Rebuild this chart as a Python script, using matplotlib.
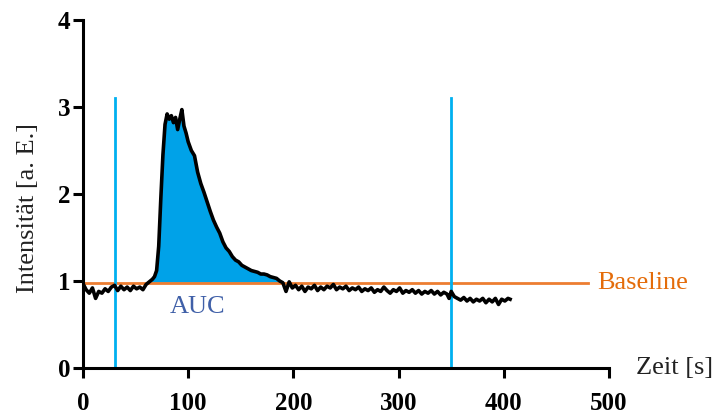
import matplotlib.pyplot as plt
import numpy as np

plt.rcParams['font.family'] = ['Liberation Serif', 'DejaVu Serif']

# Zeit [s] und Intensitaet [a. E.]
zeit = [0, 3, 6, 9, 12, 15, 18, 21, 24, 27, 30, 33, 36, 39, 42, 45, 48, 51, 54, 57,
        60, 63, 66, 68, 70, 72, 74, 76, 78, 80, 82, 84, 86, 88, 90, 92, 94, 96, 98,
        100, 103, 106, 109, 112, 115, 118, 121, 124, 127, 130, 133, 136, 139, 142,
        145, 148, 151, 154, 157, 160, 163, 166, 169, 172, 175, 178, 181, 184, 187,
        190, 193, 196, 199, 202, 205, 208, 211, 214, 217, 220, 223, 226, 229, 232,
        235, 238, 241, 244, 247, 250, 253, 256, 259, 262, 265, 268, 271, 274, 277,
        280, 283, 286, 289, 292, 295, 298, 301, 304, 307, 310, 313, 316, 319, 322,
        325, 328, 331, 334, 337, 340, 343, 346, 348, 350, 353, 356, 359, 362, 365,
        368, 371, 374, 377, 380, 383, 386, 389, 392, 395, 398, 401, 404, 406]
intensitaet = [0.97, 0.90, 0.86, 0.92, 0.80, 0.88, 0.86, 0.91, 0.88, 0.93, 0.95, 0.89,
               0.94, 0.90, 0.93, 0.89, 0.94, 0.91, 0.93, 0.90, 0.96, 0.99, 1.02, 1.05,
               1.12, 1.40, 1.95, 2.45, 2.80, 2.92, 2.86, 2.90, 2.82, 2.88, 2.74, 2.86,
               2.97, 2.78, 2.70, 2.60, 2.50, 2.44, 2.25, 2.12, 2.02, 1.91, 1.80, 1.70,
               1.62, 1.55, 1.45, 1.38, 1.34, 1.28, 1.24, 1.22, 1.18, 1.16, 1.14, 1.12,
               1.11, 1.10, 1.08, 1.08, 1.07, 1.05, 1.04, 1.03, 1.00, 0.98, 0.88, 0.99,
               0.92, 0.95, 0.90, 0.94, 0.88, 0.93, 0.91, 0.95, 0.89, 0.93, 0.90, 0.94,
               0.92, 0.96, 0.90, 0.93, 0.91, 0.94, 0.89, 0.92, 0.90, 0.93, 0.88, 0.91,
               0.89, 0.92, 0.87, 0.90, 0.88, 0.93, 0.89, 0.86, 0.90, 0.88, 0.92, 0.86,
               0.89, 0.87, 0.90, 0.86, 0.89, 0.85, 0.88, 0.86, 0.89, 0.85, 0.88, 0.84,
               0.87, 0.85, 0.80, 0.88, 0.82, 0.80, 0.78, 0.81, 0.77, 0.80, 0.76, 0.79,
               0.77, 0.80, 0.75, 0.79, 0.76, 0.80, 0.73, 0.79, 0.77, 0.80, 0.79]
baseline = 0.98
fenster = [30, 350]
baseline_ende = 480

t = np.array(zeit)
y = np.array(intensitaet)

fig = plt.figure(figsize=(7.19, 4.16), dpi=100)
ax = fig.add_axes([0.1154, 0.1154, 0.7316, 0.8366])

mask = (t >= fenster[0]) & (t <= fenster[1])
ax.fill_between(t, y, baseline, where=mask & (y > baseline), interpolate=True,
                color="#00A2E8", lw=0, zorder=1)
ax.plot([0, baseline_ende], [baseline, baseline], color="#ED7D31", lw=2, zorder=2)
for xv in fenster:
    ax.plot([xv, xv], [0, 3.1], color="#00B0F0", lw=2, zorder=2)
ax.plot(t, y, color="black", lw=2.6, zorder=3)

ax.text(109, 0.70, "AUC", color="#4060A8", fontsize=19,
        ha="center", va="center")
ax.text(489, baseline, "Baseline", color="#E46C0A", fontsize=19,
        ha="left", va="center", clip_on=False)
ax.text(526, 0, "Zeit [s]", color="#222222", fontsize=19,
        ha="left", va="center", clip_on=False)

ax.set_xlim(0, 500)
ax.set_ylim(0, 4)
ax.set_xticks(np.arange(0, 501, 100))
ax.set_yticks(np.arange(0, 5, 1))
ax.set_ylabel("Intensität [a. E.]", fontsize=19, color="#222222")
ax.yaxis.set_label_coords(-0.084, 0.461)
for s in ["top", "right"]:
    ax.spines[s].set_visible(False)
for s in ["left", "bottom"]:
    ax.spines[s].set_linewidth(2.2)
ax.tick_params(width=2.2, length=7, labelsize=18)
ax.tick_params(axis="x", pad=10)
ax.tick_params(axis="y", pad=2)
for lab in ax.get_xticklabels() + ax.get_yticklabels():
    lab.set_fontweight("bold")

fig.savefig("out.png", dpi=100)
